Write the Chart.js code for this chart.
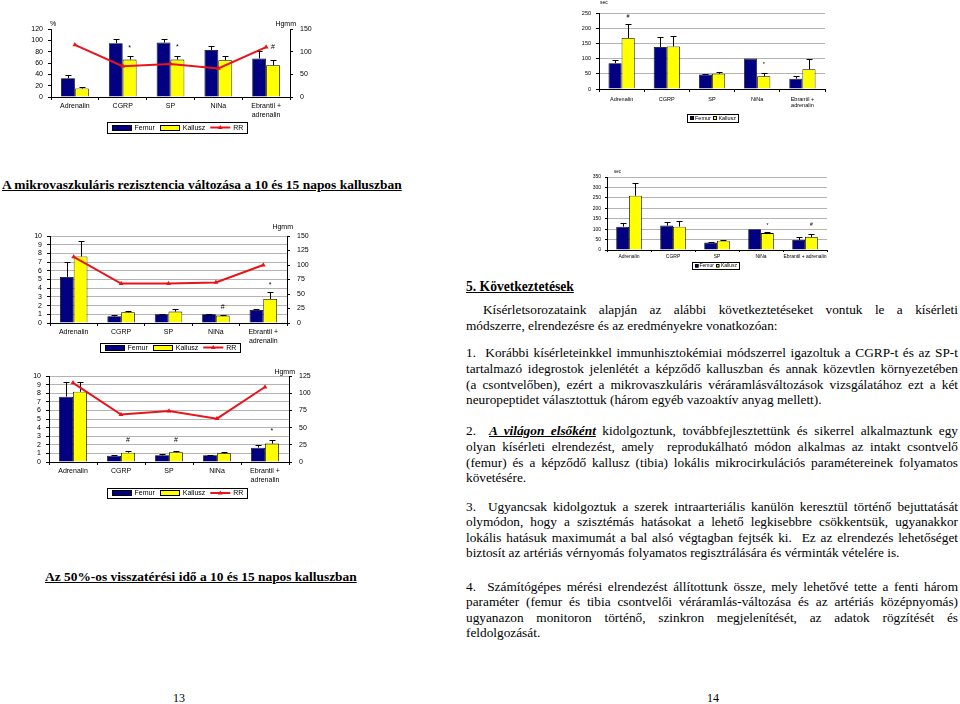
<!DOCTYPE html>
<html><head><meta charset="utf-8">
<script src="https://cdn.jsdelivr.net/npm/chart.js@4.4.0/dist/chart.umd.min.js"></script>
<style>
html,body{margin:0;padding:0;background:#fff;width:960px;height:704px;overflow:hidden;position:relative}
canvas{position:absolute}
.t{position:absolute;white-space:pre;font-family:'Liberation Serif','Times New Roman',serif;color:#000;line-height:1}
</style></head><body>
<canvas id="c1" width="330" height="140" style="left:0;top:0"></canvas>
<canvas id="c2" width="260" height="130" style="left:570px;top:0"></canvas>
<canvas id="c3" width="330" height="140" style="left:0;top:220px"></canvas>
<canvas id="c4" width="330" height="150" style="left:0;top:360px"></canvas>
<canvas id="c5" width="250" height="115" style="left:585px;top:160px"></canvas>
<script>
// ---------- DATA ----------
const categories = ['Adrenalin', 'CGRP', 'SP', 'NiNa', ['Ebrantil +', 'adrenalin']];
const categoriesWide = ['Adrenalin', 'CGRP', 'SP', 'NiNa', 'Ebrantil + adrenalin'];
const seriesNames = ['Femur', 'Kallusz', 'RR'];

// chart 1 (top left): % , RR in Hgmm
const c1Femur = [33, 95, 96, 83, 68];
const c1FemurErr = [39, 102, 102, 90, 82];
const c1Kallusz = [15, 66, 66, 65, 56];
const c1KalluszErr = [17, 73, 72, 72, 66];
const c1RR = [115, 68, 73, 63, 110];
const c1Marks = ['', '*', '*', '', '#'];
const c1MarkY = [null, 86, 88, null, 88];

// chart 2 (top right): sec
const c2Femur = [85, 138, 48, 100, 34];
const c2FemurErr = [94, 172, 50, null, 42];
const c2Kallusz = [168, 140, 50, 42, 65];
const c2KalluszErr = [213, 174, 57, 53, 98];
const c2Marks = ['#', '', '', '*', ''];
const c2MarkY = [237, null, null, 80, null];

// chart 3 (middle left): resistance, RR in Hgmm
const c3Femur = [5.3, 0.77, 1.0, 1.0, 1.5];
const c3FemurErr = [7.0, 0.88, 1.07, 1.04, 1.65];
const c3Kallusz = [7.65, 1.23, 1.31, 0.85, 2.76];
const c3KalluszErr = [9.43, 1.42, 1.57, 0.88, 3.53];
const c3RR = [114, 68, 68, 70, 100];
const c3Marks = ['', '', '', '#', '*'];
const c3MarkY = [null, null, null, 1.85, 4.4];

// chart 4 (lower left): resistance, RR in Hgmm
const c4Femur = [7.6, 0.74, 0.78, 0.78, 1.67];
const c4FemurErr = [9.3, 0.86, 0.9, 0.86, 2.02];
const c4Kallusz = [8.17, 1.09, 1.13, 1.01, 2.14];
const c4KalluszErr = [9.3, 1.25, 1.25, 1.13, 2.53];
const c4RR = [115, 69, 74, 63, 109];
const c4Marks = ['', '#', '#', '', '*'];
const c4MarkY = [null, 2.5, 2.5, null, 3.6];

// chart 5 (middle right): sec
const c5Femur = [112, 117, 36, 100, 48];
const c5FemurErr = [129, 133, 38, null, 62];
const c5Kallusz = [260, 112, 44, 81, 62];
const c5KalluszErr = [319, 141, 48, 84, 78];
const c5Marks = ['', '', '', '*', '#'];
const c5MarkY = [null, null, null, 117, 120];

// ---------- STYLE ----------
const NAVY = '#000080', YELLOW = '#ffff00', RED = '#e8141b', GRID = '#b4b4b4';
const SANS = "'Liberation Sans', Arial, sans-serif";
Chart.defaults.font.family = SANS;
Chart.defaults.color = '#000';

function drawTri(ctx, x, y, r) {
  ctx.beginPath();
  ctx.moveTo(x, y - r);
  ctx.lineTo(x + r * 0.95, y + r * 0.6);
  ctx.lineTo(x - r * 0.95, y + r * 0.6);
  ctx.closePath();
  ctx.fill();
}

const errorBars = {
  id: 'errorBars',
  afterDatasetDraw(chart, args) {
    const ds = chart.data.datasets[args.index];
    if (!ds.err) return;
    const ctx = chart.ctx;
    const ys = chart.scales[ds.yAxisID || 'y'];
    const cap = (chart.options.plugins.errorBars || {}).cap || 3;
    ctx.save();
    ctx.strokeStyle = '#000';
    ctx.lineWidth = 1;
    args.meta.data.forEach((bar, j) => {
      const e = ds.err[j];
      if (e == null) return;
      const yTop = Math.round(ys.getPixelForValue(e)) + 0.5;
      const x = Math.round(bar.x) + 0.5;
      ctx.beginPath();
      ctx.moveTo(x, bar.y);
      ctx.lineTo(x, yTop);
      ctx.moveTo(x - cap, yTop);
      ctx.lineTo(x + cap, yTop);
      ctx.stroke();
    });
    ctx.restore();
  }
};

const markText = {
  id: 'markText',
  afterDatasetsDraw(chart) {
    const ctx = chart.ctx;
    const fs = (chart.options.plugins.markText || {}).size || 7;
    chart.data.datasets.forEach((ds, i) => {
      if (!ds.marks) return;
      const meta = chart.getDatasetMeta(i);
      const ys = chart.scales[ds.yAxisID || 'y'];
      ctx.save();
      ctx.fillStyle = '#000';
      ctx.font = fs + 'px ' + SANS;
      ctx.textAlign = 'center';
      ctx.textBaseline = 'middle';
      ds.marks.forEach((m, j) => {
        if (!m) return;
        ctx.fillText(m, meta.data[j].x, ys.getPixelForValue(ds.markY[j]));
      });
      ctx.restore();
    });
  }
};

const axisTitles = {
  id: 'axisTitles',
  afterDraw(chart, args, o) {
    if (!o || !o.items) return;
    const ctx = chart.ctx;
    ctx.save();
    ctx.fillStyle = '#000';
    ctx.textBaseline = 'middle';
    o.items.forEach(it => {
      ctx.font = (it.size || 7) + 'px ' + SANS;
      ctx.textAlign = it.align || 'left';
      ctx.fillText(it.text, it.x, it.y);
    });
    ctx.restore();
  }
};

const boxLegend = {
  id: 'boxLegend',
  afterDraw(chart, args, o) {
    if (!o || !o.cx) return;
    const ctx = chart.ctx;
    ctx.save();
    ctx.font = o.size + 'px ' + SANS;
    const items = chart.data.datasets.map(ds => ({
      text: ds.label, line: ds.type === 'line', color: ds.type === 'line' ? ds.borderColor : ds.backgroundColor
    }));
    const sw = o.swW, sh = o.swH, gap = o.gap, ig = o.itemGap, pad = o.pad;
    let total = pad * 2;
    items.forEach((it, k) => {
      it.tw = ctx.measureText(it.text).width;
      total += sw + gap + it.tw + (k ? ig : 0);
    });
    const x0 = Math.round(o.cx - total / 2) + 0.5;
    const y0 = Math.round(o.cy - o.h / 2) + 0.5;
    ctx.strokeStyle = '#000';
    ctx.lineWidth = 1;
    ctx.strokeRect(x0, y0, Math.round(total), Math.round(o.h));
    let x = x0 + pad;
    const cy = o.cy;
    ctx.textBaseline = 'middle';
    ctx.textAlign = 'left';
    items.forEach((it, k) => {
      if (k) x += ig;
      if (it.line) {
        ctx.strokeStyle = it.color;
        ctx.lineWidth = 2;
        ctx.beginPath();
        ctx.moveTo(x, cy);
        ctx.lineTo(x + sw, cy);
        ctx.stroke();
        ctx.fillStyle = it.color;
        drawTri(ctx, x + sw / 2, cy, 2.5);
      } else {
        ctx.fillStyle = it.color;
        const ry = Math.round(cy - sh / 2);
        ctx.fillRect(Math.round(x), ry, sw, sh);
        ctx.strokeStyle = '#000';
        ctx.lineWidth = 1;
        ctx.strokeRect(Math.round(x) + 0.5, ry + 0.5, sw - 1, sh - 1);
      }
      x += sw + gap;
      ctx.fillStyle = '#000';
      ctx.fillText(it.text, x, cy + 0.5);
      x += it.tw;
    });
    ctx.restore();
  }
};

Chart.register(errorBars, markText, axisTitles, boxLegend);

function build(id, o) {
  const canvas = document.getElementById(id);
  const W = canvas.width, H = canvas.height;
  const xH = 20;
  const datasets = [
    { label: seriesNames[0], data: o.femur, err: o.femurErr, backgroundColor: NAVY, borderColor: '#000',
      borderWidth: 0.8, yAxisID: 'y', order: 1, categoryPercentage: o.cat || 0.58, barPercentage: 1 },
    { label: seriesNames[1], data: o.kallusz, err: o.kalluszErr, marks: o.marks, markY: o.markY,
      backgroundColor: YELLOW, borderColor: '#000', borderWidth: 0.8, yAxisID: 'y', order: 1,
      categoryPercentage: o.cat || 0.58, barPercentage: 1 }
  ];
  if (o.rr) {
    datasets.push({ type: 'line', label: seriesNames[2], data: o.rr, yAxisID: 'y1', borderColor: RED,
      backgroundColor: RED, borderWidth: 2, pointStyle: 'triangle', pointRadius: 2.8, pointBorderWidth: 0,
      order: 0, tension: 0 });
  }
  const scales = {
    x: {
      offset: true,
      grid: { display: true, drawOnChartArea: false, offset: true, tickLength: o.tl || 3, color: '#000' },
      border: { display: true, color: '#000', width: 1 },
      ticks: { font: { size: o.fs }, autoSkip: false, maxRotation: 0, minRotation: 0, padding: o.xpad, color: '#000' },
      afterFit(s) { s.height = xH; }
    },
    y: {
      position: 'left', min: 0, max: o.yMax,
      ticks: { stepSize: o.yStep, autoSkip: false, font: { size: o.fs }, padding: o.ypad || 4, color: '#000' },
      grid: { color: o.grid ? GRID : 'rgba(0,0,0,0)', drawOnChartArea: !!o.grid, tickLength: o.tl || 3, tickColor: '#000' },
      border: { display: true, color: '#000', width: 1 },
      afterFit(s) { s.width = o.left; }
    }
  };
  if (o.rr) {
    scales.y1 = {
      position: 'right', min: 0, max: o.y1Max,
      ticks: { stepSize: o.y1Step, autoSkip: false, font: { size: o.fs }, padding: o.y1pad || 5, color: '#000' },
      grid: { drawOnChartArea: false, tickLength: 3, color: '#000' },
      border: { display: true, color: '#000', width: 1 },
      afterFit(s) { s.width = W - o.right; }
    };
  }
  return new Chart(canvas, {
    type: 'bar',
    data: { labels: o.labels, datasets },
    options: {
      responsive: false, animation: false, devicePixelRatio: 1,
      layout: { padding: { top: o.top, left: 0, right: o.rr ? 0 : W - o.right, bottom: H - o.bottom - xH } },
      scales,
      plugins: {
        legend: { display: false }, tooltip: { enabled: false },
        errorBars: { cap: o.cap || 3 },
        markText: { size: o.markSize || o.fs },
        axisTitles: { items: o.titles },
        boxLegend: o.legend
      }
    }
  });
}

build('c1', {
  labels: categories, femur: c1Femur, femurErr: c1FemurErr, kallusz: c1Kallusz, kalluszErr: c1KalluszErr,
  rr: c1RR, marks: c1Marks, markY: c1MarkY,
  left: 51, right: 290, top: 29, bottom: 97, yMax: 120, yStep: 20, y1Max: 150, y1Step: 50,
  fs: 7, xpad: 2, ypad: 5, y1pad: 7, grid: false,
  titles: [{ text: '%', x: 50, y: 24 }, { text: 'Hgmm', x: 296, y: 24, align: 'right' }],
  legend: { cx: 177, cy: 127.5, h: 11, size: 7, swW: 20, swH: 6, gap: 3, itemGap: 5, pad: 4 }
});
build('c2', {
  labels: categories, femur: c2Femur, femurErr: c2FemurErr, kallusz: c2Kallusz, kalluszErr: c2KalluszErr,
  marks: c2Marks, markY: c2MarkY,
  left: 29, right: 255, top: 13, bottom: 89, yMax: 250, yStep: 50,
  fs: 5.5, xpad: 4, ypad: 5, grid: true, cap: 3,
  titles: [{ text: 'sec', x: 30, y: 3, size: 5 }],
  legend: { cx: 142, cy: 117.5, h: 8, size: 5.5, swW: 4, swH: 4, gap: 1.5, itemGap: 2, pad: 2 }
});
build('c3', {
  labels: categories, femur: c3Femur, femurErr: c3FemurErr, kallusz: c3Kallusz, kalluszErr: c3KalluszErr,
  rr: c3RR, marks: c3Marks, markY: c3MarkY,
  left: 50, right: 287, top: 16, bottom: 103, yMax: 10, yStep: 1, y1Max: 150, y1Step: 25,
  fs: 7, xpad: 2, ypad: 5, y1pad: 7, grid: true,
  titles: [{ text: 'Hgmm', x: 293, y: 7, align: 'right' }],
  legend: { cx: 170, cy: 127.5, h: 9, size: 7, swW: 20, swH: 6, gap: 3, itemGap: 5, pad: 4 }
});
build('c4', {
  labels: categories, femur: c4Femur, femurErr: c4FemurErr, kallusz: c4Kallusz, kalluszErr: c4KalluszErr,
  rr: c4RR, marks: c4Marks, markY: c4MarkY,
  left: 49, right: 289, top: 16, bottom: 102, yMax: 10, yStep: 1, y1Max: 125, y1Step: 25,
  fs: 7, xpad: 2, ypad: 5, y1pad: 7, grid: true,
  titles: [{ text: 'Hgmm', x: 295, y: 12, align: 'right' }],
  legend: { cx: 177, cy: 133, h: 10, size: 7, swW: 20, swH: 6, gap: 3, itemGap: 5, pad: 4 }
});
build('c5', {
  labels: categoriesWide, femur: c5Femur, femurErr: c5FemurErr, kallusz: c5Kallusz, kalluszErr: c5KalluszErr,
  marks: c5Marks, markY: c5MarkY,
  left: 22, right: 242, top: 17, bottom: 90, yMax: 350, yStep: 50,
  fs: 5, xpad: 1.5, ypad: 4, grid: true, tl: 2, cap: 3,
  titles: [{ text: 'sec', x: 29, y: 12, size: 4.5 }],
  legend: { cx: 130, cy: 105.5, h: 7, size: 5, swW: 3.5, swH: 3.5, gap: 1.5, itemGap: 2, pad: 2 }
});

// ---------- PAGE TEXT ----------
const BODY = 13.3;
function put(html, x, base, opt) {
  opt = opt || {};
  const fs = opt.fs || BODY;
  const d = document.createElement('div');
  d.className = 't';
  d.style.fontSize = fs + 'px';
  if (opt.bold) d.style.fontWeight = 'bold';
  if (opt.u) d.style.textDecoration = 'underline';
  d.innerHTML = html;
  d.style.left = x + 'px';
  d.style.top = (base - 0.8375 * fs) + 'px';
  document.body.appendChild(d);
  if (opt.w) {
    const w = d.getBoundingClientRect().width;
    if (opt.justify) {
      const n = (d.textContent.match(/ /g) || []).length;
      if (n) d.style.wordSpacing = ((opt.w - w) / n) + 'px';
    } else if (opt.fit) {
      const nf = fs * opt.w / w;
      d.style.fontSize = nf + 'px';
      d.style.top = (base - 0.8375 * nf) + 'px';
    }
  }
}
put('A mikrovaszkuláris rezisztencia változása a 10 és 15 napos kalluszban', 2, 189, { fs: 12.5, bold: true, u: true, w: 400, fit: true });
put('Az 50%-os visszatérési idő a 10 és 15 napos kalluszban', 45, 581, { fs: 12.5, bold: true, u: true, w: 312, fit: true });
put('5. Következtetések', 466, 291, { fs: 12.5, bold: true, u: true, w: 108, fit: true });

const R = 958, L = 466, FW = R - L;
put('Kísérletsorozataink alapján az alábbi következtetéseket vontuk le a kísérleti', 483, 314, { w: R - 483, justify: true });
put('módszerre, elrendezésre és az eredményekre vonatkozóan:', L, 330);

put('1.  Korábbi kísérleteinkkel immunhisztokémiai módszerrel igazoltuk a CGRP-t és az SP-t', L, 357, { w: FW, justify: true });
put('tartalmazó idegrostok jelenlétét a képződő kalluszban és annak közevtlen környezetében', L, 373, { w: FW, justify: true });
put('(a csontvelőben), ezért a mikrovaszkuláris véráramlásváltozások vizsgálatához ezt a két', L, 389, { w: FW, justify: true });
put('neuropeptidet választottuk (három egyéb vazoaktív anyag mellett).', L, 404);

put('2.  <b><i><u>A világon elsőként</u></i></b> kidolgoztunk, továbbfejlesztettünk és sikerrel alkalmaztunk egy', L, 435, { w: FW, justify: true });
put('olyan kísérleti elrendezést, amely  reprodukálható módon alkalmas az intakt csontvelő', L, 451, { w: FW, justify: true });
put('(femur) és a képződő kallusz (tibia) lokális mikrocirkulációs paramétereinek folyamatos', L, 467, { w: FW, justify: true });
put('követésére.', L, 482);

put('3.  Ugyancsak kidolgoztuk a szerek intraarteriális kanülön keresztül történő bejuttatását', L, 511, { w: FW, justify: true });
put('olymódon, hogy a szisztémás hatásokat a lehető legkisebbre csökkentsük, ugyanakkor', L, 526, { w: FW, justify: true });
put('lokális hatásuk maximumát a bal alsó végtagban fejtsék ki.  Ez az elrendezés lehetőséget', L, 542, { w: FW, justify: true });
put('biztosít az artériás vérnyomás folyamatos regisztrálására és vérminták vételére is.', L, 557);

put('4.  Számítógépes mérési elrendezést állítottunk össze, mely lehetővé tette a fenti három', L, 591, { w: FW, justify: true });
put('paraméter (femur és tibia csontvelői véráramlás-változása és az artériás középnyomás)', L, 606, { w: FW, justify: true });
put('ugyanazon monitoron történő, szinkron megjelenítését, az adatok rögzítését és', L, 622, { w: FW, justify: true });
put('feldolgozását.', L, 637);

put('13', 173, 702, { fs: 12 });
put('14', 707, 702, { fs: 12 });
</script>
</body></html>
